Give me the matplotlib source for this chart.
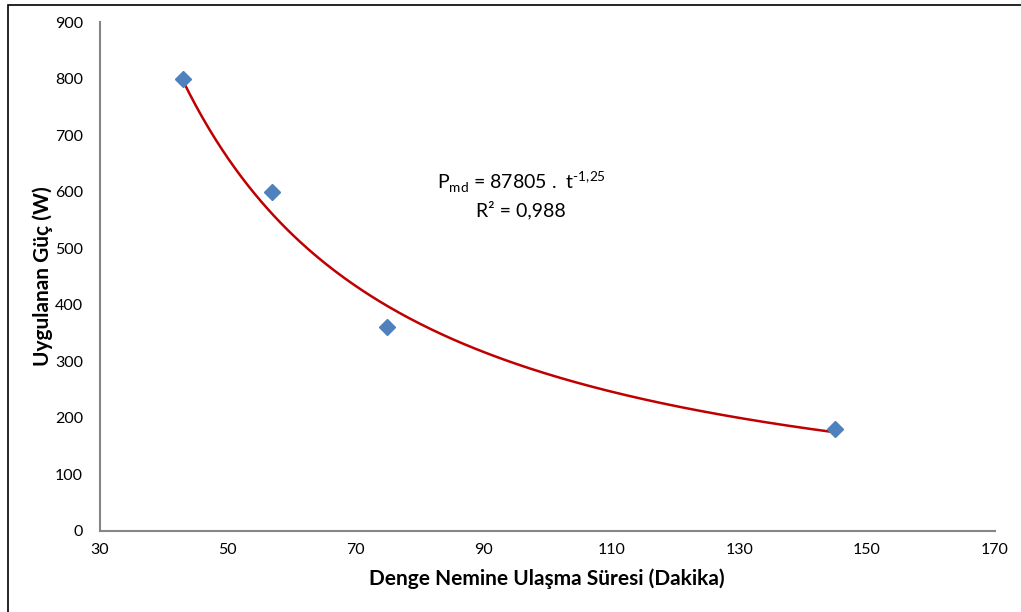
import numpy as np
import matplotlib
matplotlib.use("Agg")
import matplotlib.pyplot as plt
from matplotlib.patches import Rectangle

# measured points: time to reach equilibrium moisture (min) vs applied power (W)
t_min = [43, 57, 75, 145]
power_w = [800, 600, 360, 180]

# power-law trend  P = a * t^b
fit_a = 87805
fit_b = -1.25
fit_r2 = 0.988

x_ticks = [30, 50, 70, 90, 110, 130, 150, 170]
y_ticks = [0, 100, 200, 300, 400, 500, 600, 700, 800, 900]

plt.rcParams["font.family"] = ["Lato", "DejaVu Sans"]
plt.rcParams["mathtext.fontset"] = "custom"
plt.rcParams["mathtext.rm"] = "Lato"

fig = plt.figure(figsize=(10.21, 6.12), dpi=100)
ax = fig.add_axes([99.5 / 1021, 1 - 531 / 612, (995 - 99.5) / 1021, (531 - 22) / 612])

tt = np.linspace(min(t_min), max(t_min), 300)
ax.plot(tt, fit_a * tt ** fit_b, color="#C00000", lw=1.8, zorder=2)
ax.plot(t_min, power_w, "D", color="#4F81BD", ms=8, mec="#4F81BD", zorder=3)

ax.set_xlim(30, 170)
ax.set_ylim(0, 900)
ax.set_xticks(x_ticks)
ax.set_yticks(y_ticks)
ax.tick_params(length=0, labelsize=11.5, pad=9)
ax.tick_params(axis="y", pad=12)
for side in ("top", "right"):
    ax.spines[side].set_visible(False)
for side in ("left", "bottom"):
    ax.spines[side].set_color("#868686")
    ax.spines[side].set_linewidth(1.5)

ax.set_xlabel("Denge Nemine Ulaşma Süresi (Dakika)", fontsize=15, fontweight="bold", labelpad=8)
ax.set_ylabel("Uygulanan Güç (W)", fontsize=15, fontweight="bold", labelpad=1)

# equation of the trend line, printed with a decimal comma
exp_txt = f"{fit_b}".replace(".", "{,}").replace("-", "\u2010")
ax.text(95.9, 617, rf"P$_{{\mathrm{{md}}}}$ = {fit_a} .  t$^{{\mathrm{{{exp_txt}}}}}$",
        ha="center", va="center", fontsize=14)
ax.text(95.9, 567, f"R² = {fit_r2}".replace(".", ","), ha="center", va="center", fontsize=14)

# chart-area frame (right and bottom edges fall outside the canvas)
fig.patches.append(Rectangle((8 / 1021, -0.05), 1.1, 1.05 - 4.5 / 612,
                             transform=fig.transFigure, fill=False,
                             edgecolor="black", lw=1.2))

fig.savefig("out.png", dpi=100)
